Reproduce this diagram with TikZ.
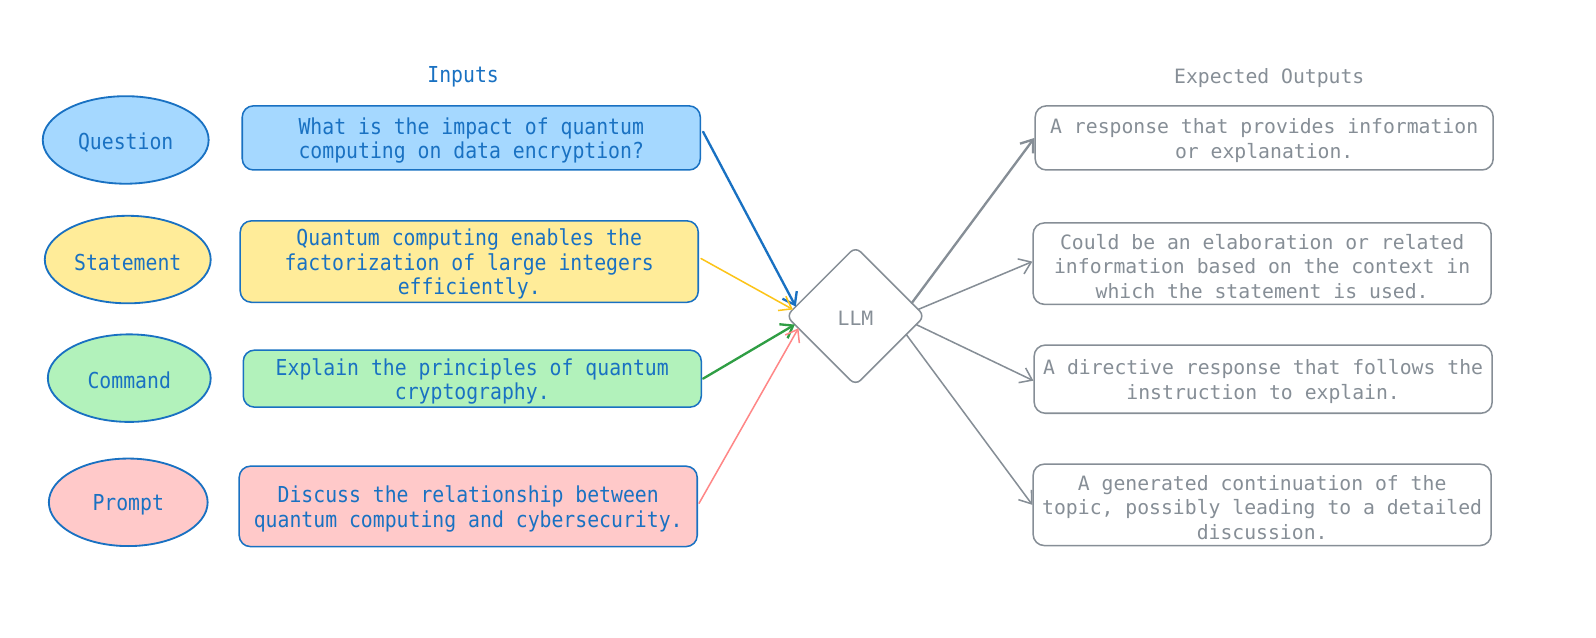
\documentclass[tikz,border=0pt]{standalone}
\usepackage{fontspec}
\newfontfamily\leftfont[FakeStretch=0.9]{DejaVu Sans Mono}
\newfontfamily\rightfont{DejaVu Sans Mono}
\usetikzlibrary{shapes.geometric,arrows.meta,calc}
\definecolor{bstroke}{HTML}{1971C2}
\definecolor{gstroke}{HTML}{868E96}
\definecolor{fq}{HTML}{A5D8FF}
\definecolor{fs}{HTML}{FFEC99}
\definecolor{fc}{HTML}{B2F2BB}
\definecolor{fp}{HTML}{FFC9C9}
\definecolor{ayellow}{HTML}{FCC419}
\definecolor{agreen}{HTML}{2F9E44}
\definecolor{ared}{HTML}{FF8787}
\tikzset{
  ltext/.style={font=\leftfont\fontsize{21.6}{24}\selectfont, text=bstroke, align=center},
  rtext/.style={font=\rightfont\fontsize{19.4}{24}\selectfont, text=gstroke, align=center},
  ltx/.style={label={[ltext, yshift=-2.5pt]center:{#1}}},
  rtx/.style={label={[rtext, yshift=-2.5pt]center:{#1}}},
  kind/.style={ellipse, draw=bstroke, line width=1.8pt, minimum width=163pt, minimum height=86pt, inner sep=0pt},
  inbox/.style={rectangle, rounded corners=11pt, draw=bstroke, line width=1.5pt, minimum width=450pt, inner sep=0pt},
  outbox/.style={rectangle, rounded corners=11pt, draw=gstroke, line width=1.5pt, fill=white, minimum width=450pt, inner sep=0pt},
  llmshape/.style={diamond, aspect=1, draw=gstroke, line width=1.5pt, minimum width=136pt, minimum height=136pt, inner sep=0pt, outer sep=0pt, rounded corners=7pt},
  arr/.style={-{Straight Barb[length=11pt,width=16pt]}, line cap=round, line join=round},
  thickarr/.style={arr, line width=2.3pt},
  thinarr/.style={arr, line width=1.5pt},
}
\begin{document}
\begin{tikzpicture}[x=1pt,y=-1pt]
\useasboundingbox (0,0) rectangle (1568,626);
% titles
\node[ltext] (tin) at (455,75.5) {Inputs};
\node[rtext] (tout) at (1247,76.5) {Expected Outputs};
% kinds
\node[kind, fill=fq, ltx={Question}] (kq) at (123.5,137.5) {};
\node[kind, fill=fs, ltx={Statement}] (ks) at (125.5,255) {};
\node[kind, fill=fc, minimum width=160pt, ltx={Command}] (kc) at (127,371.5) {};
\node[kind, fill=fp, minimum width=156pt, ltx={Prompt}] (kp) at (126,493.5) {};
% input boxes
\node[inbox, fill=fq, minimum height=63pt, ltx={What is the impact of quantum\\ computing on data encryption?}] (bq) at (463,135.5) {};
\node[inbox, fill=fs, minimum height=80pt, ltx={Quantum computing enables the\\factorization of large integers\\efficiently.}] (bs) at (461,257) {};
\node[inbox, fill=fc, minimum height=56pt, ltx={Explain the principles of quantum\\cryptography.}] (bc) at (464,372) {};
\node[inbox, fill=fp, minimum height=79pt, ltx={Discuss the relationship between\\quantum computing and cybersecurity.}] (bp) at (460,497.5) {};
% LLM
\node[llmshape, rtx={LLM}] (llm) at (840.5,310.5) {};
% outputs
\node[outbox, minimum height=63pt, rtx={A response that provides information\\or explanation.}] (o1) at (1242,135.5) {};
\node[outbox, minimum height=80pt, rtx={Could be an elaboration or related\\information based on the context in\\which the statement is used.}] (o2) at (1240,259) {};
\node[outbox, minimum height=67pt, rtx={A directive response that follows the\\instruction to explain.}] (o3) at (1241,372.5) {};
\node[outbox, minimum height=80pt, rtx={A generated continuation of the\\topic, possibly leading to a detailed\\discussion.}] (o4) at (1240,496) {};
% connectors in
\coordinate (bqo) at ($(bq.east)+(2,-6)$);
\coordinate (bso) at ($(bs.east)+(2,-3)$);
\coordinate (bco) at ($(bc.east)+(1,0)$);
\coordinate (bpo) at ($(bp.east)+(1,-3)$);
\draw[thickarr, draw=bstroke] (bqo) -- (llm.171);
\draw[thinarr, draw=ayellow] (bso) -- (llm.174);
\draw[thickarr, draw=agreen] (bco) -- (llm.188);
\draw[thinarr, draw=ared] (bpo) -- (llm.192);
% connectors out
\draw[thickarr, draw=gstroke] (llm.13) -- (o1.west);
\draw[thinarr, draw=gstroke] (llm.6) -- ($(o2.west)+(0,-2)$);
\draw[thinarr, draw=gstroke] (llm.-8) -- ($(o3.west)+(0,1.5)$);
\draw[thinarr, draw=gstroke] (llm.-20) -- (o4.west);
\end{tikzpicture}
\end{document}
